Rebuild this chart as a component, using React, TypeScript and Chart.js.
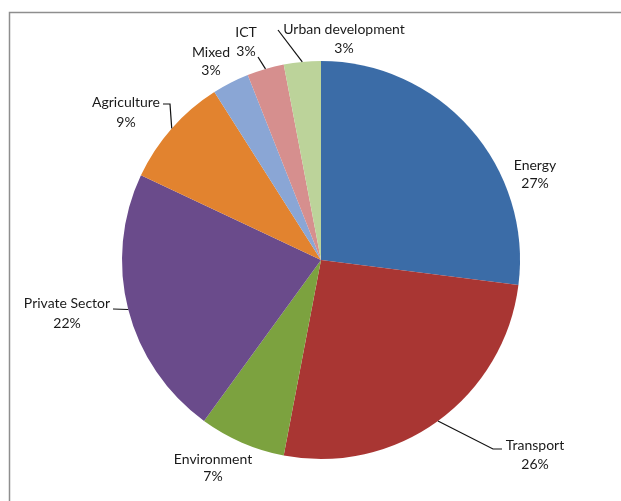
import React, { useEffect, useRef } from "react";
import { Chart, registerables } from "chart.js";
Chart.register(...registerables);

// ---- data ----
const categories = [
  "Energy",
  "Transport",
  "Environment",
  "Private Sector",
  "Agriculture",
  "Mixed",
  "ICT",
  "Urban development",
];
const shares = [27, 26, 7, 22, 9, 3, 3, 3];
const sliceColors = [
  "#3b6ca7",
  "#a93633",
  "#7ca23f",
  "#6a4b8b",
  "#e2832f",
  "#8aa6d5",
  "#d68f8e",
  "#bcd39a",
];

// ---- label layout (offsets from pie centre, px) ----
const labelAnchors: [number, number][] = [
  [214, -86],
  [214, 195],
  [-108, 208],
  [-254, 53],
  [-195, -148],
  [-110, -199],
  [-75, -218],
  [23, -221],
];
const lineGaps = [18, 19, 17, 20, 20, 18, 19, 19];
// leader polylines after the arc edge point (offsets from centre)
const leaderPaths: ([number, number][] | null)[] = [
  null,
  [
    [172, 189],
    [181, 189],
  ],
  null,
  [[-208, 49]],
  [
    [-151, -156],
    [-158, -156],
  ],
  null,
  [[-63, -203]],
  [[-43, -230]],
];

const FONT = "14px Lato, 'Open Sans', sans-serif";

const labelPlugin = {
  id: "outerLabels",
  beforeDraw(chart: any) {
    const ctx = chart.ctx;
    ctx.save();
    ctx.fillStyle = "#ffffff";
    ctx.fillRect(0, 0, chart.width, chart.height);
    ctx.strokeStyle = "#8e8e8e";
    ctx.lineWidth = 1.5;
    ctx.beginPath();
    ctx.moveTo(9.5, chart.height);
    ctx.lineTo(9.5, 12.5);
    ctx.lineTo(chart.width, 12.5);
    ctx.stroke();
    ctx.restore();
  },
  afterDraw(chart: any) {
    const ctx = chart.ctx;
    const meta = chart.getDatasetMeta(0);
    ctx.save();
    ctx.font = FONT;
    ctx.fillStyle = "#1a1a1a";
    ctx.textAlign = "center";
    ctx.textBaseline = "middle";
    meta.data.forEach((arc: any, i: number) => {
      const cx = arc.x;
      const cy = arc.y;
      const r = arc.outerRadius;
      const mid = (arc.startAngle + arc.endAngle) / 2;
      const path = leaderPaths[i];
      if (path) {
        ctx.strokeStyle = "#111";
        ctx.lineWidth = 1.2;
        ctx.beginPath();
        ctx.moveTo(cx + Math.cos(mid) * r, cy + Math.sin(mid) * r);
        path.forEach(([dx, dy]) => ctx.lineTo(cx + dx, cy + dy));
        ctx.stroke();
      }
      const [ax, ay] = labelAnchors[i];
      const gap = lineGaps[i];
      ctx.fillText(categories[i], cx + ax, cy + ay - gap / 2);
      ctx.fillText(`${shares[i]}%`, cx + ax, cy + ay + gap / 2);
    });
    ctx.restore();
  },
};

export default function App() {
  const ref = useRef<HTMLCanvasElement | null>(null);
  useEffect(() => {
    if (!ref.current) return;
    const chart = new Chart(ref.current, {
      type: "pie",
      data: {
        labels: categories,
        datasets: [
          {
            data: shares,
            backgroundColor: sliceColors,
            borderWidth: 0,
          },
        ],
      },
      options: {
        responsive: false,
        animation: false,
        layout: { padding: { left: 122, right: 101, top: 61, bottom: 42 } },
        plugins: {
          legend: { display: false },
          tooltip: { enabled: false },
        },
      },
      plugins: [labelPlugin],
    });
    return () => chart.destroy();
  }, []);
  return (
    <div style={{ position: "absolute", left: 0, top: 0, width: 621, height: 501 }}>
      <canvas ref={ref} width={621} height={501} />
    </div>
  );
}
